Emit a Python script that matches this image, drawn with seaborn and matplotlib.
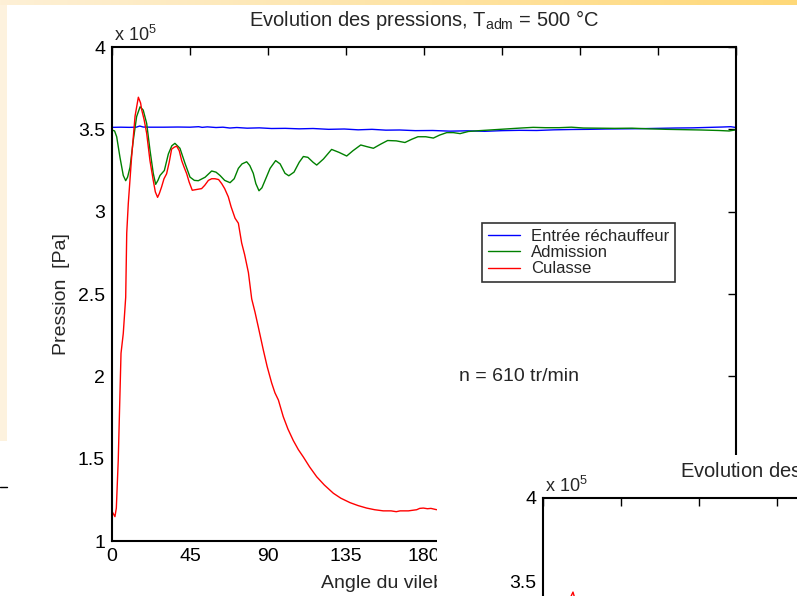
import numpy as np
import pandas as pd
import seaborn as sns
import matplotlib
matplotlib.use("Agg")
import matplotlib.pyplot as plt
from matplotlib.lines import Line2D

# Pressures in 10^5 Pa, crank angle in degrees
blue_angle = [0, 5, 10, 14, 16, 18, 22, 30, 38, 45, 50, 52, 55, 60, 64, 68, 72, 78, 85, 92,
              100, 108, 116, 125, 134, 142, 150, 158, 166, 175, 185, 195, 205, 215, 225,
              235, 245, 255, 265, 275, 285, 295, 305, 315, 325, 335, 345, 352, 357, 360]
blue_p = [3.512, 3.513, 3.512, 3.513, 3.52, 3.514, 3.513, 3.513, 3.514, 3.513, 3.516, 3.512,
          3.515, 3.511, 3.513, 3.508, 3.511, 3.507, 3.509, 3.505, 3.506, 3.503, 3.505, 3.5,
          3.502, 3.497, 3.5, 3.495, 3.496, 3.492, 3.493, 3.489, 3.491, 3.488, 3.492, 3.494,
          3.493, 3.497, 3.499, 3.5, 3.502, 3.503, 3.504, 3.506, 3.508, 3.509, 3.512, 3.514,
          3.516, 3.511]

green_angle = [0, 1.5, 2.7, 4.6, 6.5, 7.9, 9.0, 10.4, 12.3, 14.2, 16.2, 18.0, 20.0, 21.9,
               23.8, 25.2, 26.5, 27.7, 30.2, 32.5, 34.5, 36.3, 39.2, 42.1, 45.0, 47.5, 49.8,
               53.7, 57.5, 60, 62.3, 65, 68.1, 70.5, 72.9, 75, 77.7, 79.5, 81.5, 83, 84.8,
               86.5, 88.3, 91.2, 94.4, 97, 99.8, 102, 105, 108, 110.4, 113, 116, 118.1, 122,
               126.7, 131, 135.4, 139, 143.5, 147, 150.8, 155, 159, 164, 169, 173, 176.5,
               181, 185.4, 189, 193.1, 197, 200.8, 205.6, 212, 218, 224, 230, 236, 243, 250,
               258, 265, 272, 281, 290, 300, 310, 320, 330, 340, 350, 356, 360]
green_p = [3.496, 3.49, 3.455, 3.33, 3.22, 3.188, 3.21, 3.27, 3.435, 3.577, 3.637, 3.617,
           3.536, 3.375, 3.233, 3.166, 3.19, 3.22, 3.25, 3.35, 3.40, 3.415, 3.385, 3.294,
           3.21, 3.19, 3.188, 3.209, 3.247, 3.24, 3.22, 3.19, 3.176, 3.2, 3.263, 3.29, 3.303,
           3.28, 3.233, 3.17, 3.127, 3.145, 3.19, 3.263, 3.31, 3.29, 3.233, 3.218, 3.24, 3.3,
           3.335, 3.33, 3.3, 3.283, 3.32, 3.378, 3.36, 3.338, 3.37, 3.405, 3.395, 3.385,
           3.41, 3.432, 3.43, 3.42, 3.44, 3.455, 3.455, 3.447, 3.465, 3.48, 3.48, 3.474,
           3.487, 3.492, 3.496, 3.5, 3.504, 3.508, 3.512, 3.51, 3.51, 3.513, 3.508, 3.507,
           3.506, 3.507, 3.503, 3.5, 3.498, 3.496, 3.493, 3.49, 3.497]

red_angle = [0, 1.7, 2.5, 3.6, 5.2, 6.5, 7.9, 8.5, 9.4, 11.3, 13.3, 15.2, 16.5, 17.1, 18.5,
             20, 21.9, 23.8, 25.0, 26.3, 27.3, 28.6, 30, 31.5, 33, 34.4, 36, 37.3, 38.8,
             40.2, 41.6, 43.1, 44.5, 46.3, 49, 51.7, 53.5, 55.6, 57.5, 59.4, 61.5, 63.3, 65,
             67.1, 68.7, 71, 72.9, 74.8, 76.5, 78.7, 80.6, 82.5, 84.4, 87.3, 89.5, 92.1, 94,
             96, 98.8, 101.5, 104.6, 107.5, 110.4, 114, 118.1, 122.5, 127.7, 132, 137.3, 142,
             146.9, 151.5, 156.5, 161, 164, 166.2, 171, 175.8, 177.5, 179.6, 182, 184, 187.3]
red_p = [1.18, 1.148, 1.2, 1.49, 2.14, 2.26, 2.48, 2.87, 3.05, 3.33, 3.58, 3.695, 3.66,
         3.62, 3.56, 3.476, 3.31, 3.19, 3.12, 3.087, 3.11, 3.15, 3.2, 3.23, 3.3, 3.38, 3.392,
         3.398, 3.37, 3.31, 3.27, 3.23, 3.18, 3.13, 3.135, 3.14, 3.16, 3.19, 3.2, 3.2, 3.195,
         3.17, 3.14, 3.09, 3.03, 2.96, 2.93, 2.81, 2.74, 2.63, 2.47, 2.39, 2.30, 2.16, 2.06,
         1.96, 1.90, 1.856, 1.755, 1.68, 1.61, 1.555, 1.51, 1.45, 1.39, 1.34, 1.29, 1.26,
         1.233, 1.215, 1.20, 1.19, 1.183, 1.183, 1.178, 1.183, 1.183, 1.19, 1.198, 1.2,
         1.196, 1.198, 1.19]

# second (overlapping) chart, only the tip of its peak shows
red2_angle = [13, 15.5, 17.3, 19, 21]
red2_p = [3.2, 3.40, 3.44, 3.38, 3.2]

x_ticks = [0, 45, 90, 135, 180, 225, 270, 315, 360]
y_ticks = [1, 1.5, 2, 2.5, 3, 3.5, 4]
y_ticklabels = ["1", "1.5", "2", "2.5", "3", "3.5", "4"]
labels = ["Entrée réchauffeur", "Admission", "Culasse"]
title = "Evolution des pressions, T$_{\\mathrm{adm}}$ = 500 °C"

sns.set_theme(style="white")
plt.rcParams["font.family"] = ["Liberation Sans", "DejaVu Sans"]
plt.rcParams["mathtext.fontset"] = "custom"
plt.rcParams["mathtext.rm"] = "Liberation Sans"
plt.rcParams["mathtext.it"] = "Liberation Sans"

W, H = 797, 596
fig = plt.figure(figsize=(W / 100, H / 100), dpi=100)
fig.patch.set_facecolor("white")

# slide background: thin gradient band on top, cream strip on the left
bg_img = np.ones((H, W, 3))
grad = np.linspace(0, 1, W)[:, None]
top_l = np.array([253, 240, 214]) / 255
top_r = np.array([255, 216, 120]) / 255
bg_img[:5, :, :] = (top_l + (top_r - top_l) * grad)[None, :, :]
bg_img[5:441, :7, :] = np.array([253, 242, 222]) / 255
bg = fig.add_axes([0, 0, 1, 1], zorder=-10)
bg.imshow(bg_img, aspect="auto", interpolation="nearest")
bg.set_axis_off()
fig.add_artist(Line2D([0, 7 / W], [1 - 487 / H, 1 - 487 / H], color="black", lw=1))


def style_axes(ax):
    ax.set_xlim(0, 360)
    ax.set_ylim(1, 4)
    ax.set_xticks(x_ticks)
    ax.set_yticks(y_ticks)
    ax.set_yticklabels(y_ticklabels)
    ax.tick_params(direction="in", length=6, width=1, top=True, right=True,
                   labelsize=14, pad=5, colors="black")
    for s in ax.spines.values():
        s.set_visible(True)
        s.set_color("black")
        s.set_linewidth(1.5)
    ax.set_title(title, fontsize=14.5, pad=15)
    ax.text(0.003, 1.004, "x 10$^{5}$", transform=ax.transAxes, ha="left", va="bottom",
            fontsize=13)


ax = fig.add_axes([112 / W, 1 - 541 / H, 624 / W, 494 / H])
sns.lineplot(x=blue_angle, y=blue_p, color="#0000ff", lw=1, ax=ax, label=labels[0])
sns.lineplot(x=green_angle, y=green_p, color="#008000", lw=1, ax=ax, label=labels[1])
sns.lineplot(x=red_angle, y=red_p, color="#ff0000", lw=1, ax=ax, label=labels[2])
style_axes(ax)
ax.set_xlabel("Angle du vilebrequin  [°]", fontsize=14, labelpad=7)
ax.set_ylabel("Pression  [Pa]", fontsize=14, labelpad=6)
ax.text(200, 2.0, "n = 610 tr/min", fontsize=14, ha="left", va="center")
leg = ax.legend(loc="upper left", bbox_to_anchor=(0.593, 0.644), borderaxespad=0,
                fontsize=12, frameon=True, fancybox=False, handlelength=1.9,
                handletextpad=0.7, borderpad=0.35, labelspacing=0.08)
leg.get_frame().set_edgecolor("black")
leg.get_frame().set_linewidth(1.2)

# white panel of the next figure pasted over the lower right corner
ov = fig.add_axes([437 / W, 0, 360 / W, (H - 455) / H], zorder=5)
ov.set_facecolor("white")
ov.set_xticks([])
ov.set_yticks([])
for s in ov.spines.values():
    s.set_visible(False)

ax2 = fig.add_axes([543 / W, (H - 1002) / H, 624 / W, 504 / H], zorder=6)
sns.lineplot(x=red2_angle, y=red2_p, color="#ff0000", lw=1, ax=ax2)
style_axes(ax2)

fig.savefig("out.png", dpi=100)
